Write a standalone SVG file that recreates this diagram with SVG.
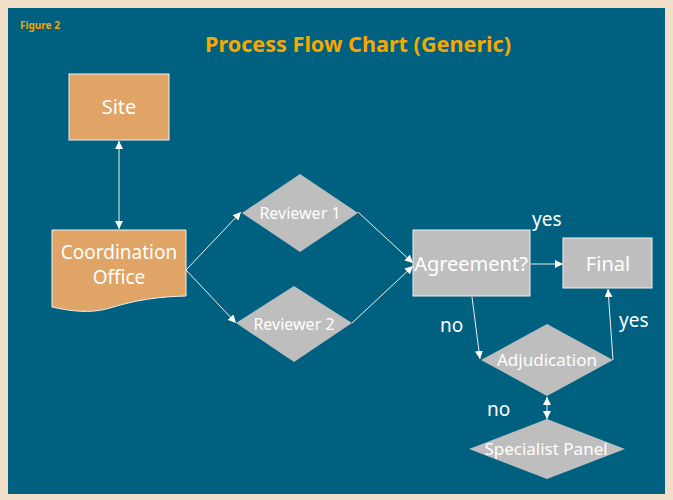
<svg xmlns="http://www.w3.org/2000/svg" width="673" height="500" viewBox="0 0 673 500">
<defs>
<marker id="ah" viewBox="0 0 10 10" refX="10" refY="5" markerWidth="8" markerHeight="8" markerUnits="userSpaceOnUse" orient="auto-start-reverse">
<path d="M0,0 L10,5 L0,10 z" fill="#ffffff"/>
</marker>
<style>
.orange{fill:#e0a466;stroke:#f0f0f0;stroke-width:1}
.grey{fill:#bebebe;stroke:#f0f0f0;stroke-width:1}
.dia{fill:#bebebe;stroke:none}
.t{font-family:"Noto Sans","Open Sans",sans-serif;fill:#ffffff;text-anchor:middle}
.lbl{font-family:"Noto Sans","Open Sans",sans-serif;fill:#ffffff;font-size:19px}
.c{stroke:#f0f0f0;stroke-width:1;fill:none;marker-end:url(#ah)}
.cc{stroke:#f0f0f0;stroke-width:1;fill:none;marker-end:url(#ah);marker-start:url(#ah)}
</style>
</defs>
<rect x="0" y="0" width="673" height="500" fill="#f2dfca"/>
<rect x="8" y="8" width="657" height="486" fill="#006080"/>
<text x="20" y="29" font-family="'Noto Sans',sans-serif" font-weight="bold" font-size="10" fill="#f0a500">Figure 2</text>
<text x="358" y="52" font-family="'Noto Sans',sans-serif" font-weight="bold" font-size="21" fill="#f5a800" text-anchor="middle" textLength="306" lengthAdjust="spacingAndGlyphs">Process Flow Chart (Generic)</text>

<g id="connectors">
<line class="cc" x1="119" y1="141" x2="119" y2="229"/>
<line class="c" x1="186" y1="270" x2="241" y2="212"/>
<line class="c" x1="186" y1="270" x2="236" y2="323"/>
<line class="c" x1="358" y1="212" x2="413" y2="263"/>
<line class="c" x1="352" y1="323" x2="413" y2="266"/>
<line class="c" x1="531" y1="264" x2="563" y2="264"/>
<line class="c" x1="472" y1="297" x2="480" y2="359"/>
<line class="c" x1="613" y1="360" x2="608" y2="289"/>
<line class="cc" x1="547" y1="397" x2="547" y2="419"/>
<text class="lbl" x="532" y="226">yes</text>
<text class="lbl" x="440" y="332">no</text>
<text class="lbl" x="619" y="327">yes</text>
<text class="lbl" x="487" y="416">no</text>
</g>

<g id="site">
<rect class="orange" x="69" y="74" width="100" height="66"/>
<text class="t" x="119" y="114" font-size="20">Site</text>
</g>

<g id="coordination-office">
<path class="orange" d="M52,230 L186,230 L186,296 C150,297 130,302 110,308 C90,314 70,311 52,307 Z"/>
<text class="t" x="119" y="259" font-size="19">Coordination</text>
<text class="t" x="119" y="284" font-size="19">Office</text>
</g>

<g id="reviewer1">
<polygon class="dia" points="242,213 300,174 358,213 300,252"/>
<text class="t" x="300" y="219" font-size="16">Reviewer 1</text>
</g>

<g id="reviewer2">
<polygon class="dia" points="236,323 294,286 352,323 294,362"/>
<text class="t" x="294" y="330" font-size="16">Reviewer 2</text>
</g>

<g id="agreement">
<rect class="grey" x="413" y="230" width="117" height="66"/>
<text class="t" x="471" y="271" font-size="20">Agreement?</text>
</g>

<g id="final">
<rect class="grey" x="563" y="238" width="89" height="50"/>
<text class="t" x="608" y="271" font-size="20">Final</text>
</g>

<g id="adjudication">
<polygon class="dia" points="481,360 547,324 613,360 547,396"/>
<text class="t" x="547" y="366" font-size="17">Adjudication</text>
</g>

<g id="specialist-panel">
<polygon class="dia" points="469,449 547,419 625,449 547,479"/>
<text class="t" x="546" y="455" font-size="17">Specialist Panel</text>
</g>
</svg>
